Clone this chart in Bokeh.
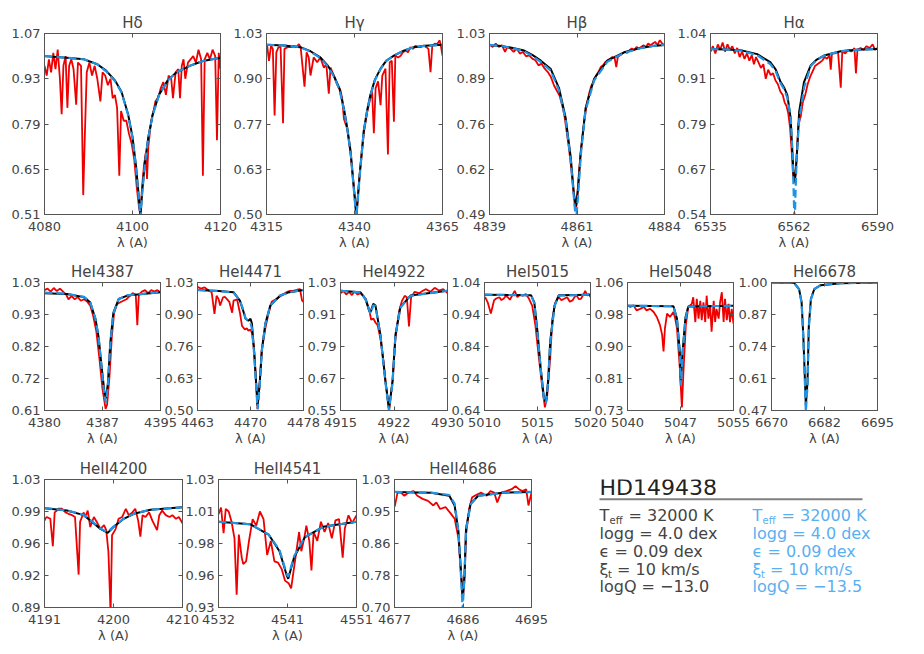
import numpy as np
from bokeh.plotting import figure
from bokeh.layouts import row, column
from bokeh.models import Range1d, LinearAxis, FixedTicker, CustomJSTickFormatter, Label
from bokeh.embed import file_html
from bokeh.resources import INLINE

FONT = "DejaVu Sans"
AXC = "#555555"
TXC = "#444444"
RED = "#ee0000"
BLUE = "#1f94e4"
BLUE_TXT = "#5aaff0"

# ------------------------------------------------------------------ data
# H delta
hd_title = "Hδ"
hd_xticks = ["4080", "4100", "4120"]
hd_yticks = ["0.51", "0.65", "0.79", "0.93", "1.07"]
hd_obs = [(4080.0, 0.97), (4080.5, 0.94), (4081.0, 0.99), (4081.5, 0.95), (4082.0, 1.01), (4082.5, 0.96),
          (4083.0, 1.02), (4083.5, 0.93), (4083.9, 0.82), (4084.3, 0.97), (4084.8, 1.00), (4085.2, 0.84),
          (4085.6, 0.97), (4086.1, 0.99), (4086.6, 0.96), (4087.2, 0.85), (4087.6, 0.98), (4088.3, 0.97),
          (4088.8, 0.57), (4089.2, 0.77), (4089.6, 0.95), (4090.2, 0.98), (4090.8, 0.94), (4091.4, 0.97),
          (4092.0, 0.93), (4092.7, 0.86), (4093.2, 0.95), (4093.8, 0.94), (4094.4, 0.91), (4095.0, 0.93),
          (4095.5, 0.87), (4096.0, 0.88), (4096.5, 0.84), (4097.0, 0.63), (4097.4, 0.83), (4098.0, 0.80),
          (4098.6, 0.80), (4099.2, 0.76), (4099.8, 0.73), (4100.4, 0.68), (4101.0, 0.59), (4101.5, 0.53),
          (4101.8, 0.51), (4102.2, 0.60), (4102.6, 0.66), (4103.0, 0.70), (4103.3, 0.62), (4103.6, 0.72),
          (4104.0, 0.77), (4104.4, 0.81), (4104.8, 0.83), (4105.2, 0.86), (4105.8, 0.87), (4106.4, 0.90),
          (4107.0, 0.92), (4107.6, 0.88), (4108.2, 0.94), (4108.8, 0.93), (4109.2, 0.87), (4109.8, 0.95),
          (4110.4, 0.96), (4110.8, 0.87), (4111.2, 0.97), (4111.6, 0.99), (4112.0, 0.93), (4112.6, 0.98),
          (4113.2, 0.99), (4113.8, 1.00), (4114.4, 0.98), (4115.0, 1.02), (4115.6, 0.99), (4116.0, 0.63),
          (4116.4, 0.99), (4117.0, 1.01), (4117.6, 0.99), (4118.2, 1.02), (4118.8, 1.00), (4119.2, 0.74),
          (4119.6, 1.01), (4120.0, 0.96)]
hd_mod_wl = [4080, 4085, 4089, 4092, 4094, 4096, 4097.5, 4099, 4100, 4100.8, 4101.4, 4101.8, 4102.2,
             4102.8, 4103.6, 4104.6, 4106, 4108, 4110, 4113, 4116, 4120]
hd_mod_a = [1.00, 0.995, 0.99, 0.975, 0.955, 0.925, 0.89, 0.82, 0.75, 0.66, 0.57, 0.505, 0.58,
            0.67, 0.75, 0.82, 0.88, 0.925, 0.95, 0.97, 0.985, 0.995]
hd_mod_b = [1.00, 0.995, 0.99, 0.975, 0.953, 0.923, 0.888, 0.818, 0.748, 0.655, 0.565, 0.50, 0.575,
            0.665, 0.748, 0.818, 0.878, 0.924, 0.95, 0.97, 0.985, 0.995]

# H gamma
hg_title = "Hγ"
hg_xticks = ["4315", "4340", "4365"]
hg_yticks = ["0.50", "0.63", "0.77", "0.90", "1.03"]
hg_obs = [(4315.0, 0.99), (4315.2, 0.994), (4315.7, 0.95), (4316.3, 0.994), (4316.8, 0.985), (4317.3, 0.79),
          (4317.8, 0.975), (4318.4, 0.99), (4319.0, 0.99), (4319.7, 0.767), (4320.1, 0.985), (4321.0, 0.99),
          (4321.8, 0.99), (4322.8, 0.994), (4323.5, 0.99), (4324.2, 0.999), (4324.7, 0.99), (4325.8, 0.874),
          (4326.4, 0.975), (4327.0, 0.96), (4327.5, 0.907), (4328.4, 0.96), (4329.4, 0.946), (4330.3, 0.96),
          (4331.3, 0.93), (4332.0, 0.94), (4332.7, 0.854), (4333.2, 0.93), (4334.1, 0.907), (4335.1, 0.88),
          (4336.0, 0.864), (4336.5, 0.84), (4337.0, 0.78), (4337.9, 0.752), (4338.9, 0.675), (4339.8, 0.58),
          (4340.6, 0.50), (4341.5, 0.62), (4342.7, 0.743), (4343.6, 0.80), (4344.5, 0.84), (4345.0, 0.86),
          (4345.5, 0.738), (4346.0, 0.87), (4346.7, 0.89), (4347.4, 0.82), (4347.9, 0.907), (4348.8, 0.927),
          (4349.5, 0.676), (4350.0, 0.946), (4350.6, 0.95), (4351.2, 0.772), (4351.6, 0.965), (4352.4, 0.96),
          (4353.1, 0.965), (4353.8, 0.975), (4354.5, 0.98), (4355.2, 0.975), (4355.9, 0.99), (4356.6, 0.985),
          (4357.3, 0.994), (4358.0, 0.99), (4358.8, 0.99), (4359.6, 0.995), (4360.4, 0.99), (4361.0, 0.985),
          (4361.6, 0.917), (4362.1, 0.994), (4362.8, 1.0), (4363.5, 0.999), (4364.2, 1.01), (4364.6, 0.99),
          (4365.0, 0.965)]
hg_mod_wl = [4315, 4320, 4324.6, 4327.5, 4330.3, 4332.5, 4334.1, 4335.7, 4337.0, 4338.0, 4338.9, 4339.8,
             4340.5, 4341.5, 4342.6, 4343.5, 4344.5, 4345.8, 4347.4, 4349, 4351.2, 4354, 4356.9, 4360, 4365]
hg_mod_a = [0.997, 0.995, 0.99, 0.978, 0.96, 0.935, 0.907, 0.87, 0.81, 0.75, 0.685, 0.58,
            0.495, 0.62, 0.743, 0.80, 0.85, 0.895, 0.927, 0.95, 0.965, 0.98, 0.99, 0.994, 0.997]
hg_mod_b = [0.997, 0.995, 0.99, 0.977, 0.958, 0.933, 0.905, 0.867, 0.807, 0.747, 0.68, 0.575,
            0.49, 0.615, 0.74, 0.797, 0.848, 0.893, 0.926, 0.95, 0.965, 0.98, 0.99, 0.994, 0.997]

# H beta
hb_title = "Hβ"
hb_xticks = ["4839", "4861", "4884"]
hb_yticks = ["0.49", "0.62", "0.76", "0.89", "1.03"]
hb_obs = [(4839.0, 0.997), (4839.8, 0.99), (4840.6, 1.0), (4841.4, 0.99), (4842.2, 0.995), (4843.0, 0.975),
          (4843.6, 0.99), (4844.4, 0.985), (4845.2, 0.975), (4846.0, 0.985), (4846.8, 0.97), (4847.6, 0.975),
          (4848.4, 0.962), (4849.2, 0.965), (4850.0, 0.955), (4850.8, 0.95), (4851.6, 0.935), (4852.4, 0.94),
          (4853.2, 0.925), (4854.0, 0.915), (4854.8, 0.9), (4855.6, 0.875), (4856.3, 0.86), (4857.0, 0.845),
          (4857.6, 0.82), (4858.2, 0.79), (4858.8, 0.74), (4859.4, 0.69), (4860.0, 0.63), (4860.5, 0.57),
          (4860.9, 0.52), (4861.2, 0.505), (4861.5, 0.53), (4861.9, 0.6), (4862.4, 0.67), (4862.9, 0.72),
          (4863.4, 0.77), (4864.0, 0.82), (4864.6, 0.85), (4865.2, 0.875), (4865.8, 0.885), (4866.4, 0.905),
          (4867.0, 0.915), (4867.6, 0.93), (4868.2, 0.935), (4868.8, 0.945), (4869.4, 0.95), (4870.0, 0.955),
          (4870.6, 0.96), (4871.2, 0.955), (4871.6, 0.93), (4872.0, 0.96), (4872.6, 0.965), (4873.2, 0.97),
          (4873.8, 0.975), (4874.4, 0.972), (4875.0, 0.98), (4875.6, 0.985), (4876.2, 0.98), (4876.8, 0.99),
          (4877.4, 0.985), (4878.0, 0.99), (4878.6, 0.995), (4879.2, 0.99), (4879.8, 1.0), (4880.4, 0.995),
          (4881.0, 1.0), (4881.6, 1.005), (4882.2, 0.995), (4882.8, 1.01), (4883.4, 1.0), (4884.0, 0.995)]
hb_mod_wl = [4839, 4842, 4845, 4847.9, 4850, 4852.2, 4854.7, 4856.9, 4858.6, 4859.9, 4860.7, 4861.25,
             4861.8, 4862.5, 4863.7, 4865.9, 4869.3, 4873.6, 4877.8, 4881, 4884]
hb_mod_a = [0.996, 0.993, 0.987, 0.979, 0.966, 0.949, 0.925, 0.866, 0.777, 0.66, 0.552, 0.515,
            0.57, 0.68, 0.807, 0.895, 0.949, 0.974, 0.987, 0.993, 0.996]
hb_mod_b = [0.996, 0.993, 0.986, 0.977, 0.963, 0.945, 0.92, 0.86, 0.77, 0.65, 0.54, 0.47,
            0.55, 0.67, 0.80, 0.89, 0.946, 0.972, 0.986, 0.993, 0.996]

# H alpha
ha_title = "Hα"
ha_xticks = ["6535", "6562", "6590"]
ha_yticks = ["0.54", "0.67", "0.79", "0.91", "1.04"]
ha_obs = [(6535.0, 0.99), (6535.8, 1.005), (6536.6, 0.985), (6537.4, 1.01), (6538.2, 0.995), (6539.0, 1.015),
          (6539.8, 0.99), (6540.6, 1.01), (6541.4, 0.995), (6542.2, 1.005), (6543.0, 0.985), (6543.8, 1.0),
          (6544.6, 0.975), (6545.4, 0.99), (6546.2, 0.97), (6547.0, 0.985), (6547.8, 0.965), (6548.6, 0.98),
          (6549.3, 0.955), (6550.0, 0.975), (6550.8, 0.96), (6551.6, 0.945), (6552.4, 0.955), (6553.2, 0.915),
          (6554.0, 0.94), (6554.8, 0.925), (6555.6, 0.93), (6556.4, 0.91), (6557.2, 0.9), (6558.0, 0.88),
          (6558.8, 0.87), (6559.4, 0.85), (6560.0, 0.84), (6560.6, 0.82), (6561.2, 0.78), (6561.7, 0.72),
          (6562.2, 0.65), (6562.6, 0.63), (6563.0, 0.65), (6563.5, 0.72), (6564.0, 0.79), (6564.7, 0.81),
          (6565.4, 0.85), (6566.2, 0.87), (6567.0, 0.9), (6567.8, 0.92), (6568.6, 0.935), (6569.4, 0.95),
          (6570.2, 0.955), (6571.0, 0.96), (6571.8, 0.965), (6572.6, 0.975), (6573.4, 0.97), (6574.2, 0.98),
          (6574.6, 0.94), (6575.0, 0.985), (6576.0, 0.985), (6577.0, 0.99), (6577.9, 0.89), (6578.4, 0.99),
          (6579.4, 0.985), (6580.4, 0.995), (6581.4, 0.99), (6582.4, 1.0), (6582.9, 0.93), (6583.4, 0.995),
          (6584.4, 1.0), (6585.4, 0.995), (6586.4, 1.005), (6587.4, 1.0), (6588.4, 1.01), (6589.2, 0.995),
          (6590.0, 1.0)]
ha_mod_wl = [6535, 6540, 6544.9, 6550.4, 6554.8, 6556.5, 6558.1, 6559.3, 6560.3, 6561.4, 6561.95, 6562.4,
             6562.7, 6563.0, 6563.4, 6564.2, 6565.8, 6568, 6570, 6572.4, 6577.9, 6583, 6590]
ha_mod_a = [0.997, 0.996, 0.994, 0.983, 0.96, 0.94, 0.906, 0.89, 0.87, 0.806, 0.715, 0.645,
            0.628, 0.65, 0.697, 0.824, 0.906, 0.952, 0.968, 0.979, 0.991, 0.995, 0.997]
ha_mod_b = [0.997, 0.996, 0.993, 0.98, 0.955, 0.935, 0.902, 0.885, 0.862, 0.81, 0.72, 0.6,
            0.5, 0.6, 0.7, 0.8, 0.89, 0.95, 0.967, 0.979, 0.991, 0.995, 0.997]

# He I 4387
he4387_title = "HeI4387"
he4387_xticks = ["4380", "4387", "4395"]
he4387_yticks = ["0.61", "0.72", "0.82", "0.93", "1.03"]
he4387_obs = [(4380.0, 1.005), (4380.4, 1.01), (4380.8, 1.0), (4381.2, 1.012), (4381.6, 1.002), (4382.0, 1.01),
              (4382.4, 1.0), (4382.8, 0.99), (4383.1, 0.975), (4383.5, 0.985), (4383.9, 0.975), (4384.3, 0.982),
              (4384.7, 0.97), (4385.1, 0.975), (4385.5, 0.968), (4385.9, 0.955), (4386.3, 0.92), (4386.7, 0.87),
              (4387.1, 0.78), (4387.5, 0.68), (4387.9, 0.615), (4388.1, 0.63), (4388.4, 0.72), (4388.7, 0.85),
              (4389.0, 0.93), (4389.4, 0.96), (4389.8, 0.965), (4390.2, 0.97), (4390.6, 0.975), (4391.0, 0.985),
              (4391.4, 0.995), (4391.8, 0.99), (4392.0, 0.89), (4392.2, 0.99), (4392.6, 1.0), (4393.0, 1.005),
              (4393.4, 0.995), (4393.8, 1.005), (4394.2, 1.0), (4394.6, 1.005), (4395.0, 0.998)]
he4387_mod_wl = [4380, 4382.9, 4385.1, 4385.9, 4386.6, 4387.0, 4387.4, 4387.75, 4387.95, 4388.2, 4388.5,
                 4388.9, 4389.6, 4390.7, 4395]
he4387_mod_a = [0.995, 0.992, 0.982, 0.965, 0.91, 0.85, 0.75, 0.67, 0.65, 0.70, 0.83, 0.93, 0.976, 0.987, 0.998]
he4387_mod_b = [0.997, 0.993, 0.983, 0.966, 0.91, 0.848, 0.745, 0.66, 0.635, 0.69, 0.825, 0.928, 0.976, 0.988, 0.998]

# He I 4471
he4471_title = "HeI4471"
he4471_xticks = ["4463", "4470", "4478"]
he4471_yticks = ["0.50", "0.63", "0.76", "0.90", "1.03"]
he4471_obs = [(4463.0, 1.015), (4463.1, 1.01), (4463.5, 1.005), (4464.0, 1.01), (4464.3, 1.003), (4464.7, 0.995),
              (4465.0, 0.99), (4465.4, 0.90), (4465.7, 0.975), (4466.0, 0.96), (4466.2, 0.935), (4466.6, 0.968),
              (4466.9, 0.97), (4467.2, 0.96), (4467.5, 0.95), (4467.9, 0.905), (4468.1, 0.955), (4468.6, 0.96),
              (4469.0, 0.905), (4469.3, 0.85), (4469.7, 0.836), (4470.0, 0.84), (4470.2, 0.83), (4470.5, 0.835),
              (4470.7, 0.823), (4471.0, 0.755), (4471.3, 0.62), (4471.5, 0.506), (4471.8, 0.61), (4472.1, 0.75),
              (4472.6, 0.84), (4473.0, 0.895), (4473.5, 0.95), (4474.2, 0.963), (4474.9, 0.976), (4475.6, 0.99),
              (4476.1, 0.995), (4476.6, 0.996), (4477.1, 1.0), (4477.5, 1.003), (4477.8, 0.955), (4478.0, 0.95)]
he4471_mod_wl = [4463, 4466, 4468.1, 4469.0, 4469.5, 4469.8, 4470.2, 4470.5, 4470.7, 4471.0, 4471.3, 4471.5,
                 4471.8, 4472.1, 4472.6, 4473.3, 4474.7, 4476, 4478]
he4471_mod_a = [0.999, 0.995, 0.99, 0.955, 0.91, 0.88, 0.872, 0.88, 0.86, 0.75, 0.61, 0.52,
                0.61, 0.75, 0.86, 0.935, 0.976, 0.99, 0.999]
he4471_mod_b = [0.999, 0.995, 0.988, 0.955, 0.915, 0.882, 0.87, 0.862, 0.84, 0.74, 0.6, 0.505,
                0.6, 0.745, 0.858, 0.935, 0.976, 0.99, 0.999]

# He I 4922
he4922_title = "HeI4922"
he4922_xticks = ["4915", "4922", "4930"]
he4922_yticks = ["0.55", "0.67", "0.79", "0.91", "1.03"]
he4922_obs = [(4915.0, 0.99), (4915.4, 0.998), (4915.8, 0.985), (4916.2, 0.995), (4916.6, 0.983), (4917.0, 0.996),
              (4917.4, 0.985), (4917.8, 0.99), (4918.2, 0.98), (4918.6, 0.965), (4919.0, 0.93), (4919.3, 0.89),
              (4919.6, 0.895), (4919.9, 0.88), (4920.2, 0.87), (4920.6, 0.82), (4921.0, 0.74), (4921.3, 0.66),
              (4921.8, 0.55), (4922.3, 0.66), (4922.7, 0.82), (4923.2, 0.92), (4923.6, 0.96), (4924.0, 0.98),
              (4924.3, 0.975), (4924.6, 0.865), (4924.9, 0.975), (4925.4, 0.995), (4926.0, 0.99), (4926.6, 1.0),
              (4927.0, 1.005), (4927.6, 0.995), (4928.2, 1.01), (4928.8, 1.0), (4929.4, 1.005), (4930.0, 0.99)]
he4922_mod_wl = [4915, 4917.8, 4918.5, 4919.0, 4919.2, 4919.6, 4919.9, 4920.6, 4921.3, 4921.8, 4922.3,
                 4922.7, 4923.4, 4924.8, 4930]
he4922_mod_a = [0.999, 0.993, 0.968, 0.925, 0.919, 0.95, 0.944, 0.833, 0.661, 0.556, 0.661, 0.833, 0.938, 0.981, 0.999]
he4922_mod_b = [0.999, 0.993, 0.968, 0.928, 0.912, 0.945, 0.942, 0.83, 0.655, 0.55, 0.655, 0.83, 0.936, 0.98, 0.999]

# He I 5015
he5015_title = "HeI5015"
he5015_xticks = ["5010", "5015", "5020"]
he5015_yticks = ["0.64", "0.74", "0.84", "0.94", "1.04"]
he5015_obs = [(5010.0, 0.99), (5010.06, 0.994), (5010.3, 0.978), (5010.6, 0.943), (5010.9, 0.984), (5011.1, 0.99),
              (5011.4, 0.994), (5011.6, 0.985), (5011.8, 0.989), (5012.0, 0.998), (5012.2, 0.994), (5012.4, 0.986),
              (5012.6, 0.999), (5012.85, 1.014), (5013.1, 0.994), (5013.35, 1.002), (5013.6, 0.999), (5013.9, 1.004),
              (5014.2, 0.989), (5014.5, 0.968), (5014.8, 0.907), (5015.1, 0.814), (5015.45, 0.712), (5015.7, 0.65),
              (5015.9, 0.681), (5016.2, 0.804), (5016.4, 0.927), (5016.7, 0.978), (5017.0, 0.994), (5017.25, 0.985),
              (5017.5, 0.989), (5017.8, 0.994), (5018.05, 0.98), (5018.3, 0.984), (5018.5, 0.995), (5018.7, 0.999),
              (5018.9, 0.988), (5019.1, 0.989), (5019.3, 1.0), (5019.5, 1.014), (5019.7, 0.999), (5019.85, 1.004),
              (5020.0, 0.994)]
he5015_mod_wl = [5010, 5014.4, 5014.7, 5015.0, 5015.3, 5015.6, 5015.8, 5016.0, 5016.2, 5016.6, 5017.0, 5020]
he5015_mod_a = [1.002, 1.0, 0.978, 0.886, 0.773, 0.681, 0.666, 0.732, 0.855, 0.968, 1.0, 1.002]
he5015_mod_b = [1.002, 1.0, 0.975, 0.88, 0.77, 0.678, 0.662, 0.728, 0.85, 0.965, 0.999, 1.002]

# He I 5048
he5048_title = "HeI5048"
he5048_xticks = ["5040", "5047", "5055"]
he5048_yticks = ["0.73", "0.81", "0.90", "0.98", "1.06"]
he5048_obs = [(5040.0, 1.001), (5040.4, 0.997), (5040.85, 1.001), (5041.3, 0.988), (5041.8, 0.992), (5042.3, 0.997),
              (5042.7, 0.988), (5043.2, 0.992), (5043.7, 0.984), (5044.15, 0.971), (5044.6, 0.95), (5044.9, 0.925),
              (5045.1, 0.882), (5045.3, 0.942), (5045.6, 0.98), (5046.0, 0.971), (5046.5, 0.984), (5046.75, 0.967),
              (5047.0, 0.942), (5047.4, 0.84), (5047.7, 0.738), (5047.9, 0.823), (5048.25, 0.95), (5048.6, 0.997),
              (5049.1, 1.005), (5049.3, 1.022), (5049.6, 0.958), (5049.8, 1.018), (5050.05, 0.967), (5050.3, 1.013),
              (5050.5, 0.963), (5050.75, 1.009), (5051.0, 0.958), (5051.2, 1.026), (5051.45, 0.967), (5051.7, 1.001),
              (5051.9, 0.933), (5052.2, 1.013), (5052.4, 0.958), (5052.6, 0.992), (5052.9, 0.967), (5053.1, 1.009),
              (5053.35, 1.035), (5053.6, 0.958), (5053.8, 1.018), (5054.05, 0.963), (5054.3, 1.005), (5054.5, 0.958),
              (5054.75, 0.992), (5055.0, 0.954)]
he5048_mod_wl = [5040, 5046.5, 5047.0, 5047.4, 5047.55, 5047.8, 5048.2, 5048.6, 5055]
he5048_mod_a = [1.0, 0.999, 0.967, 0.882, 0.805, 0.882, 0.97, 0.998, 1.0]
he5048_mod_b = [1.0, 0.999, 0.965, 0.875, 0.795, 0.875, 0.965, 0.998, 1.0]

# He I 6678 (no observed spectrum)
he6678_title = "HeI6678"
he6678_xticks = ["6670", "6682", "6695"]
he6678_yticks = ["0.47", "0.61", "0.74", "0.87", "1.00"]
he6678_obs = []
he6678_mod_wl = [6670, 6675.3, 6676.5, 6677.1, 6677.5, 6677.9, 6678.1, 6678.5, 6678.8, 6679.3, 6680.1,
                 6681.6, 6686.3, 6695]
he6678_mod_a = [1.0, 0.999, 0.973, 0.918, 0.78, 0.59, 0.49, 0.59, 0.82, 0.932, 0.973, 0.989, 0.997, 1.0]
he6678_mod_b = [1.0, 0.999, 0.972, 0.915, 0.77, 0.575, 0.465, 0.575, 0.81, 0.93, 0.973, 0.989, 0.997, 1.0]

# He II 4200
heii4200_title = "HeII4200"
heii4200_xticks = ["4191", "4200", "4210"]
heii4200_yticks = ["0.89", "0.92", "0.96", "0.99", "1.03"]
heii4200_obs = [(4191.0, 0.985), (4191.1, 0.987), (4191.3, 0.989), (4191.8, 0.987), (4192.15, 0.957), (4192.4, 0.994),
                (4192.7, 0.996), (4192.9, 0.998), (4193.4, 0.998), (4193.9, 0.994), (4194.3, 0.9925), (4194.8, 0.991),
                (4195.2, 0.989), (4195.7, 0.926), (4195.9, 0.9836), (4196.4, 0.994), (4196.6, 0.989), (4196.95, 0.996),
                (4197.3, 0.978), (4197.8, 0.989), (4198.2, 0.9836), (4198.7, 0.976), (4199.2, 0.98), (4199.5, 0.9746),
                (4199.8, 0.951), (4200.1, 0.883), (4200.3, 0.969), (4200.8, 0.976), (4201.2, 0.987), (4201.7, 0.989),
                (4202.2, 0.998), (4202.6, 0.991), (4203.1, 0.994), (4203.5, 0.998), (4203.9, 0.985), (4204.2, 0.9675),
                (4204.5, 0.991), (4204.9, 0.989), (4205.4, 0.994), (4205.85, 0.985), (4206.5, 0.9746), (4206.8, 0.991),
                (4207.2, 0.996), (4207.7, 0.991), (4208.2, 0.989), (4208.6, 0.991), (4209.1, 0.987), (4209.5, 0.989),
                (4210.0, 0.982)]
heii4200_mod_wl = [4191, 4194.1, 4196.4, 4197.8, 4198.7, 4199.4, 4199.7, 4200.5, 4201.9, 4203.3, 4205.6, 4210]
heii4200_mod_a = [0.9986, 0.996, 0.991, 0.982, 0.976, 0.973, 0.9716, 0.978, 0.987, 0.9925, 0.997, 0.9996]
heii4200_mod_b = [0.9988, 0.9962, 0.9912, 0.9825, 0.9765, 0.9735, 0.9725, 0.9785, 0.9872, 0.9926, 0.997, 0.9996]

# He II 4541
heii4541_title = "HeII4541"
heii4541_xticks = ["4532", "4541", "4551"]
heii4541_yticks = ["0.93", "0.96", "0.98", "1.01", "1.03"]
heii4541_obs = [(4532.0, 1.003), (4532.35, 1.008), (4532.7, 0.988), (4533.0, 1.007), (4533.4, 1.005), (4533.8, 0.997),
                (4534.2, 0.984), (4534.5, 0.94), (4534.8, 0.987), (4535.2, 0.969), (4535.4, 0.964), (4535.8, 0.966),
                (4536.2, 0.982), (4536.7, 0.999), (4537.2, 0.994), (4537.7, 1.005), (4538.2, 0.999), (4538.7, 0.971),
                (4539.2, 0.982), (4539.7, 0.966), (4540.2, 0.965), (4540.7, 0.96), (4541.15, 0.951), (4541.65, 0.949),
                (4542.0, 0.945), (4542.4, 0.961), (4542.8, 0.977), (4543.1, 0.989), (4543.4, 0.974), (4543.8, 0.984),
                (4544.1, 0.994), (4544.5, 0.982), (4544.8, 0.959), (4545.1, 0.989), (4545.6, 0.982), (4546.1, 0.997),
                (4546.6, 0.989), (4547.1, 0.996), (4547.6, 0.984), (4548.1, 0.998), (4548.6, 0.999), (4549.1, 0.969),
                (4549.4, 0.992), (4549.9, 1.002), (4550.4, 0.996), (4551.0, 1.002)]
heii4541_mod_wl = [4532, 4536.4, 4538.9, 4540.4, 4541.4, 4541.6, 4542.4, 4543.9, 4546.4, 4551]
heii4541_mod_a = [0.997, 0.995, 0.987, 0.974, 0.955, 0.9524, 0.969, 0.985, 0.993, 0.997]
heii4541_mod_b = [0.997, 0.995, 0.987, 0.975, 0.956, 0.954, 0.97, 0.985, 0.993, 0.997]

# He II 4686
heii4686_title = "HeII4686"
heii4686_xticks = ["4677", "4686", "4695"]
heii4686_yticks = ["0.70", "0.78", "0.86", "0.95", "1.03"]
heii4686_obs = [(4677.0, 0.96), (4677.1, 0.967), (4677.4, 0.996), (4677.85, 0.996), (4678.3, 0.988), (4678.8, 0.996),
                (4679.5, 1.0), (4680.0, 0.988), (4680.7, 0.98), (4681.4, 0.975), (4682.1, 0.963), (4682.5, 0.971),
                (4683.0, 0.954), (4683.7, 0.959), (4684.4, 0.942), (4684.9, 0.929), (4685.4, 0.879), (4685.7, 0.795),
                (4686.0, 0.728), (4686.2, 0.77), (4686.4, 0.887), (4686.8, 0.954), (4687.2, 0.984), (4687.9, 0.992),
                (4688.4, 0.996), (4689.1, 0.988), (4689.6, 1.0), (4690.1, 0.996), (4690.5, 0.971), (4691.0, 0.996),
                (4691.7, 1.0), (4692.4, 1.005), (4692.9, 1.013), (4693.35, 1.005), (4693.8, 1.0), (4694.3, 1.005),
                (4694.6, 0.963), (4695.0, 0.996)]
heii4686_mod_wl = [4677, 4681.8, 4684.2, 4684.9, 4685.4, 4685.7, 4685.95, 4686.2, 4686.4, 4687.0, 4688.0,
                   4691.2, 4695]
heii4686_mod_a = [0.998, 0.996, 0.988, 0.963, 0.896, 0.803, 0.72, 0.786, 0.904, 0.967, 0.988, 0.996, 0.998]
heii4686_mod_b = [0.998, 0.996, 0.99, 0.968, 0.895, 0.795, 0.695, 0.78, 0.9, 0.966, 0.988, 0.996, 0.998]

# model parameters (left: black model, right: blue model)
star_name = "HD149438"
teff_k = [32000, 32000]
logg_dex = [4.0, 4.0]
eps_dex = [0.09, 0.09]
xi_kms = [10, 10]
logq = [-13.0, -13.5]

# ------------------------------------------------------------------ layout (px, page coordinates)
X_LABEL = "λ (A)"
TOP_PAD = 10
L_FIRST, L_OTHER, R_PAD = 36, 40, 22
rows_spec = [
    # (T, frame_h, B, [(frame_left, frame_right), ...], panels)
    (21, 183, 45, [(44, 220), (266, 442), (489, 664), (710, 877)],
     [(hd_title, hd_xticks, hd_yticks, hd_obs, hd_mod_wl, hd_mod_a, hd_mod_b),
      (hg_title, hg_xticks, hg_yticks, hg_obs, hg_mod_wl, hg_mod_a, hg_mod_b),
      (hb_title, hb_xticks, hb_yticks, hb_obs, hb_mod_wl, hb_mod_a, hb_mod_b),
      (ha_title, ha_xticks, ha_yticks, ha_obs, ha_mod_wl, ha_mod_a, ha_mod_b)]),
    (21, 130, 46, [(44, 160), (197, 303), (340, 447), (484, 590), (627, 733), (771, 877)],
     [(he4387_title, he4387_xticks, he4387_yticks, he4387_obs, he4387_mod_wl, he4387_mod_a, he4387_mod_b),
      (he4471_title, he4471_xticks, he4471_yticks, he4471_obs, he4471_mod_wl, he4471_mod_a, he4471_mod_b),
      (he4922_title, he4922_xticks, he4922_yticks, he4922_obs, he4922_mod_wl, he4922_mod_a, he4922_mod_b),
      (he5015_title, he5015_xticks, he5015_yticks, he5015_obs, he5015_mod_wl, he5015_mod_a, he5015_mod_b),
      (he5048_title, he5048_xticks, he5048_yticks, he5048_obs, he5048_mod_wl, he5048_mod_a, he5048_mod_b),
      (he6678_title, he6678_xticks, he6678_yticks, he6678_obs, he6678_mod_wl, he6678_mod_a, he6678_mod_b)]),
    (21, 130, 38, [(44, 182), (218, 356), (394, 531)],
     [(heii4200_title, heii4200_xticks, heii4200_yticks, heii4200_obs, heii4200_mod_wl, heii4200_mod_a, heii4200_mod_b),
      (heii4541_title, heii4541_xticks, heii4541_yticks, heii4541_obs, heii4541_mod_wl, heii4541_mod_a, heii4541_mod_b),
      (heii4686_title, heii4686_xticks, heii4686_yticks, heii4686_obs, heii4686_mod_wl, heii4686_mod_a, heii4686_mod_b)]),
]

LABEL_JS = """
let b = 0;
for (let i = 0; i < vals.length; i++) {
  if (Math.abs(vals[i] - tick) < Math.abs(vals[b] - tick)) b = i;
}
return labels[b];
"""


def label_fmt(vals, labels):
    return CustomJSTickFormatter(args=dict(vals=list(vals), labels=list(labels)), code=LABEL_JS)


def style_axis(ax):
    ax.axis_line_color = AXC
    ax.major_tick_line_color = AXC
    ax.major_tick_in = 4
    ax.major_tick_out = 0
    ax.minor_tick_line_color = None
    ax.major_label_text_font = FONT
    ax.major_label_text_font_size = "13px"
    ax.major_label_text_color = TXC


def make_panel(spec, T, fh, B, L, fw, ml):
    title, xt, yt, obs, mwl, ma, mb = spec
    x0, x1 = float(xt[0]), float(xt[-1])
    y0, y1 = float(yt[0]), float(yt[-1])
    xvals = [x0, (x0 + x1) / 2.0, x1]
    yvals = [float(v) for v in np.linspace(y0, y1, len(yt))]
    p = figure(width=L + fw + R_PAD, height=T + fh + B,
               x_range=Range1d(x0, x1), y_range=Range1d(y0, y1),
               output_backend="svg", toolbar_location=None, title=title,
               min_border_left=L, min_border_right=R_PAD, min_border_top=T, min_border_bottom=B,
               margin=(0, 0, 0, ml))
    p.border_fill_color = None
    p.background_fill_color = "white"
    p.outline_line_color = AXC
    p.outline_line_width = 1
    p.grid.visible = False
    p.title.text_font = FONT
    p.title.text_font_size = "15px"
    p.title.text_font_style = "normal"
    p.title.text_color = TXC
    p.title.align = "center"
    p.title.standoff = 3

    xa = p.xaxis[0]
    ya = p.yaxis[0]
    for ax in (xa, ya):
        style_axis(ax)
    xa.ticker = FixedTicker(ticks=xvals)
    xa.formatter = label_fmt(xvals, xt)
    xa.major_label_standoff = 7
    xa.axis_label = X_LABEL
    xa.axis_label_text_font = FONT
    xa.axis_label_text_font_size = "13px"
    xa.axis_label_text_font_style = "normal"
    xa.axis_label_text_color = TXC
    xa.axis_label_standoff = 1
    ya.ticker = FixedTicker(ticks=yvals)
    ya.formatter = label_fmt(yvals, yt)
    ya.major_label_standoff = 4

    blank = CustomJSTickFormatter(code="return '';")
    top = LinearAxis(ticker=FixedTicker(ticks=xvals), formatter=blank)
    right = LinearAxis(ticker=FixedTicker(ticks=yvals), formatter=blank)
    for ax in (top, right):
        style_axis(ax)
        ax.major_label_text_font_size = "0px"
        ax.major_label_standoff = 0
    p.add_layout(top, "above")
    p.add_layout(right, "right")

    if obs:
        ow = [o[0] for o in obs]
        of = [o[1] for o in obs]
        p.line(ow, of, line_color=RED, line_width=1.8)
    p.line(mwl, ma, line_color="black", line_width=2)
    p.line(mwl, mb, line_color=BLUE, line_width=2.2, line_dash="8 4")
    return p


rows = []
for ri, (T, fh, B, frames, specs) in enumerate(rows_spec):
    figs = []
    prev_right = 0
    for i, (spec, (fl, fr)) in enumerate(zip(specs, frames)):
        L = L_FIRST if i == 0 else L_OTHER
        fw = fr - fl
        left = fl - L
        ml = left - prev_right
        figs.append(make_panel(spec, T, fh, B, L, fw, ml))
        prev_right = left + L + fw + R_PAD
    if ri == 2:
        # parameter panel: frame has the same height / position as the neighbouring panels,
        # data units are pixels measured from the frame's top-left corner
        TW = 340
        tleft = 560
        tp = figure(width=TW, height=T + fh + B, x_range=Range1d(0, TW), y_range=Range1d(fh, 0),
                    x_axis_location=None, y_axis_location=None,
                    output_backend="svg", toolbar_location=None,
                    min_border_left=0, min_border_right=0, min_border_top=T, min_border_bottom=B,
                    margin=(0, 0, 0, tleft - prev_right))
        tp.grid.visible = False
        tp.outline_line_color = None
        tp.border_fill_color = None
        tp.background_fill_color = None
        tp.add_layout(Label(x=39, y=8, text=star_name, text_font=FONT, text_font_size="22px",
                            text_color="#222222", text_baseline="middle", text_align="left"))
        tp.line([39, 302], [20, 20], line_color="#808080", line_width=2)
        ys = [37, 55, 73, 91, 109]
        for col, (x0, colr) in enumerate([(39, TXC), (192, BLUE_TXT)]):
            def lab(x, y, t, size="16px"):
                tp.add_layout(Label(x=x, y=y, text=t, text_font=FONT, text_font_size=size,
                                    text_color=colr, text_baseline="middle", text_align="left"))
            lab(x0, ys[0], "T")
            lab(x0 + 10, ys[0] + 5, "eff", "10px")
            lab(x0 + 29, ys[0], "= %d K" % teff_k[col])
            lab(x0, ys[1], "logg = %.1f dex" % logg_dex[col])
            lab(x0, ys[2], "ϵ = %.2f dex" % eps_dex[col])
            lab(x0, ys[3], "ξ")
            lab(x0 + 8.5, ys[3] + 5, "t", "10px")
            lab(x0 + 17.5, ys[3], "= %d km/s" % xi_kms[col])
            lab(x0, ys[4], "logQ = " + ("%.1f" % logq[col]).replace("-", "−"))
        figs.append(tp)
    rows.append(row(*figs))

layout = column(*rows, margin=(TOP_PAD, 0, 0, 0))
open("out.html", "w").write(file_html(layout, INLINE))
